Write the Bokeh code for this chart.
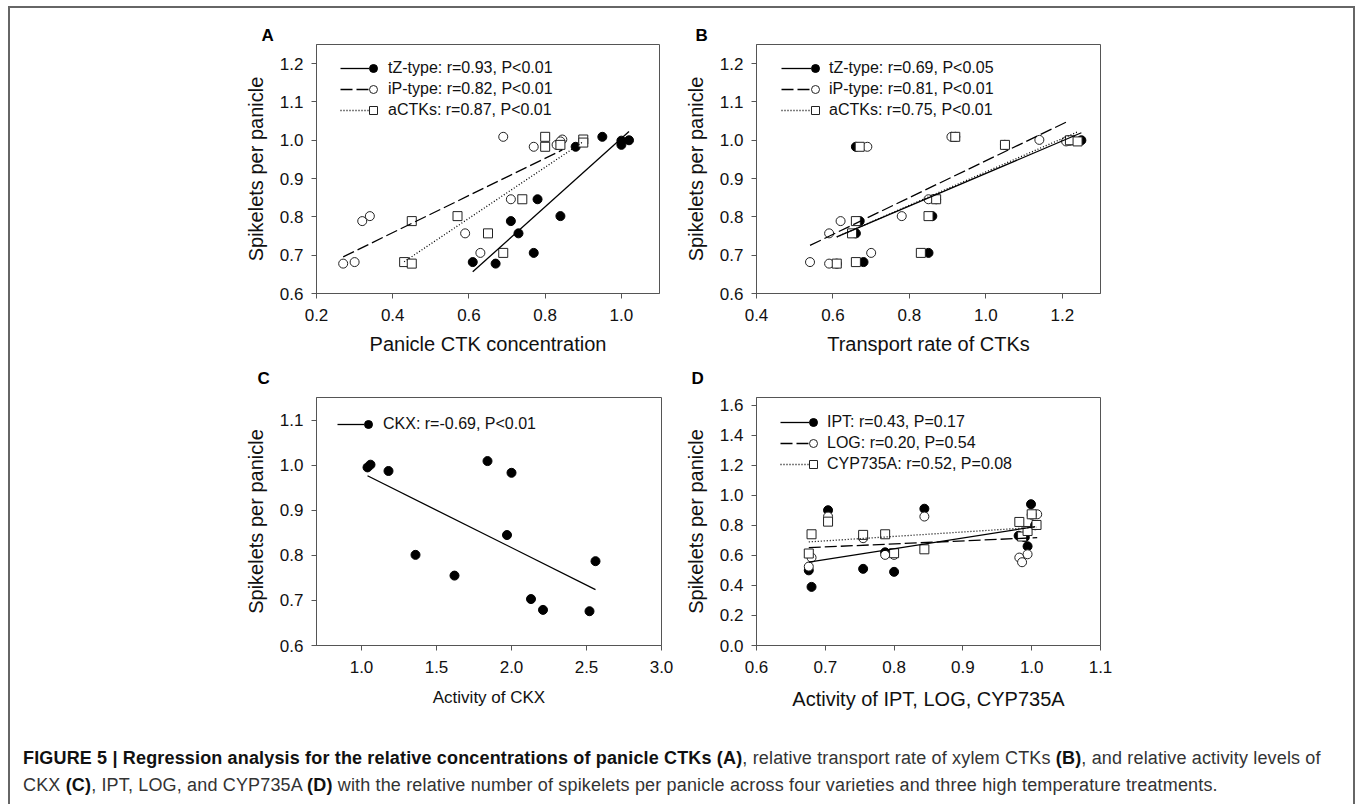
import numpy as np
from bokeh.plotting import figure
from bokeh.models import (Legend, LegendItem, FixedTicker, Spacer,
                          NumeralTickFormatter, Range1d, Div)
from bokeh.layouts import column, row
from bokeh.embed import file_html
from bokeh.resources import INLINE

# ---------------- data ----------------
# Panel A: panicle CTK concentration vs spikelets per panicle
a_tz_x = [0.61, 0.67, 0.71, 0.73, 0.77, 0.78, 0.84, 0.88, 0.95, 1.00, 1.00, 1.02]
a_tz_y = [0.682, 0.678, 0.789, 0.757, 0.706, 0.846, 0.802, 0.983, 1.009, 0.999, 0.988, 1.000]
a_ip_x = [0.27, 0.30, 0.32, 0.34, 0.59, 0.63, 0.69, 0.71, 0.77, 0.83, 0.845, 0.84]
a_ip_y = [0.678, 0.682, 0.789, 0.802, 0.757, 0.706, 1.009, 0.846, 0.983, 0.988, 1.002, 0.997]
a_ac_x = [0.43, 0.45, 0.45, 0.57, 0.65, 0.69, 0.74, 0.80, 0.80, 0.84, 0.90, 0.90]
a_ac_y = [0.682, 0.678, 0.789, 0.802, 0.757, 0.706, 0.846, 1.009, 0.983, 0.988, 1.002, 0.994]

# Panel B: transport rate of CTKs
b_tz_x = [0.68, 0.61, 0.67, 0.66, 0.85, 0.87, 0.86, 0.66, 0.92, 1.22, 1.05, 1.25]
b_tz_y = [0.682, 0.678, 0.789, 0.757, 0.706, 0.846, 0.802, 0.983, 1.009, 0.999, 0.988, 1.000]
b_ip_x = [0.54, 0.59, 0.59, 0.62, 0.70, 0.69, 0.78, 0.85, 0.91, 1.14, 1.05, 1.21]
b_ip_y = [0.682, 0.678, 0.757, 0.789, 0.706, 0.983, 0.802, 0.846, 1.009, 1.001, 0.988, 0.997]
b_ac_x = [0.61, 0.66, 0.65, 0.66, 0.67, 0.83, 0.85, 0.87, 0.92, 1.05, 1.22, 1.24]
b_ac_y = [0.678, 0.682, 0.757, 0.789, 0.983, 0.706, 0.802, 0.846, 1.009, 0.988, 1.000, 0.997]

# Panel C: CKX activity
c_ckx_x = [1.04, 1.06, 1.18, 1.36, 1.62, 1.84, 1.97, 2.00, 2.13, 2.21, 2.52, 2.56]
c_ckx_y = [0.995, 1.001, 0.987, 0.801, 0.755, 1.009, 0.845, 0.983, 0.703, 0.679, 0.676, 0.787]

# Panel D: IPT, LOG, CYP735A activity
d_ipt_x = [0.676, 0.680, 0.704, 0.755, 0.787, 0.800, 0.844, 0.981, 0.994, 0.999, 1.005, 0.990]
d_ipt_y = [0.50, 0.39, 0.90, 0.51, 0.62, 0.49, 0.91, 0.73, 0.66, 0.94, 0.80, 0.72]
d_log_x = [0.676, 0.680, 0.704, 0.755, 0.787, 0.800, 0.844, 0.982, 0.986, 0.994, 1.008, 1.000]
d_log_y = [0.525, 0.585, 0.858, 0.714, 0.603, 0.603, 0.858, 0.585, 0.554, 0.607, 0.873, 0.870]
d_cyp_x = [0.680, 0.676, 0.704, 0.755, 0.787, 0.800, 0.844, 0.982, 0.986, 0.994, 1.000, 1.007]
d_cyp_y = [0.74, 0.612, 0.824, 0.736, 0.74, 0.614, 0.64, 0.822, 0.725, 0.762, 0.873, 0.802]

labels_a = ["tZ-type: r=0.93, P<0.01", "iP-type: r=0.82, P<0.01", "aCTKs: r=0.87, P<0.01"]
labels_b = ["tZ-type: r=0.69, P<0.05", "iP-type: r=0.81, P<0.01", "aCTKs: r=0.75, P<0.01"]
labels_c = ["CKX: r=-0.69, P<0.01"]
labels_d = ["IPT: r=0.43, P=0.17", "LOG: r=0.20, P=0.54", "CYP735A: r=0.52, P=0.08"]

FONT = "Liberation Sans"
AXC = "#555555"

STYLES = {
    "filled": dict(marker="circle", fill_color="black", line_color="black"),
    "open": dict(marker="circle", fill_color="white", line_color="#222222"),
    "square": dict(marker="square", fill_color="white", line_color="#222222"),
}
LINES = {
    "filled": dict(line_dash="solid", line_width=1.3),
    "open": dict(line_dash="12 4", line_width=1.3),
    "square": dict(line_dash="1 2", line_width=1.3),
}


def make_fig(letter, letter_dx, letter_gap, xr, yr, xticks, yticks, xlabel, xlabel_size,
             fw, fh, left, right, top, bottom, xlabel_standoff):
    p = figure(frame_width=fw, frame_height=fh,
               x_range=Range1d(*xr), y_range=Range1d(*yr),
               min_border_left=left, min_border_right=right,
               min_border_top=top, min_border_bottom=bottom,
               output_backend="svg", toolbar_location=None, tools="")
    p.title.text = letter
    p.title.align = "left"
    p.title.offset = letter_dx
    p.title.standoff = letter_gap
    p.title.text_font = FONT
    p.title.text_font_size = "17px"
    p.title.text_font_style = "bold"
    p.title.text_color = "black"
    p.xgrid.visible = False
    p.ygrid.visible = False
    p.outline_line_color = AXC
    p.outline_line_width = 1
    p.background_fill_color = "white"
    p.border_fill_color = "white"
    p.xaxis.ticker = FixedTicker(ticks=xticks)
    p.yaxis.ticker = FixedTicker(ticks=yticks)
    p.xaxis.formatter = NumeralTickFormatter(format="0.0")
    p.yaxis.formatter = NumeralTickFormatter(format="0.0")
    for ax in (p.xaxis[0], p.yaxis[0]):
        ax.axis_line_color = AXC
        ax.major_tick_line_color = AXC
        ax.minor_tick_line_color = None
        ax.major_tick_in = 0
        ax.major_tick_out = 5
        ax.major_label_text_font = FONT
        ax.major_label_text_font_size = "17px"
        ax.major_label_text_color = "#111111"
        ax.axis_label_text_font = FONT
        ax.axis_label_text_font_style = "normal"
        ax.axis_label_text_color = "#111111"
    p.xaxis.major_label_standoff = 10
    p.yaxis.major_label_standoff = 8
    p.xaxis.axis_label = xlabel
    p.xaxis.axis_label_text_font_size = xlabel_size
    p.xaxis.axis_label_standoff = xlabel_standoff
    p.yaxis.axis_label = "Spikelets per panicle"
    p.yaxis.axis_label_text_font_size = "20px"
    p.yaxis.axis_label_standoff = 10
    return p


def add_series(p, xs, ys, kind):
    return p.scatter(xs, ys, size=9, line_width=1, **STYLES[kind])


def add_fit(p, xs, ys, kind):
    xs = np.asarray(xs, dtype=float)
    ys = np.asarray(ys, dtype=float)
    k, b = np.polyfit(xs, ys, 1)
    x0, x1 = float(xs.min()), float(xs.max())
    return p.line([x0, x1], [k * x0 + b, k * x1 + b], line_color="black", **LINES[kind])


def add_legend(p, fh, lines, marks, labels, line_x, line_w, mark_center, text_x, row0):
    gh, sp = 20, 1
    n = len(labels)
    height = n * gh + (n - 1) * sp
    vy = int(round(fh - (row0 - gh / 2) - height))
    common = dict(glyph_height=gh, label_height=gh, spacing=sp, padding=0, margin=0,
                  border_line_alpha=0, background_fill_alpha=0,
                  label_text_font=FONT, label_text_font_size="16px",
                  label_text_color="#111111")
    leg1 = Legend(items=[LegendItem(label=" ", renderers=[l]) for l in lines],
                  location=(int(line_x), vy), glyph_width=int(line_w), label_standoff=0,
                  label_text_alpha=0, **common)
    gw = 22
    gl = int(mark_center - gw // 2)
    leg2 = Legend(items=[LegendItem(label=t, renderers=[m]) for t, m in zip(labels, marks)],
                  location=(gl, vy), glyph_width=gw, label_standoff=int(text_x - (gl + gw)),
                  **common)
    p.add_layout(leg1)
    p.add_layout(leg2)


# ---------------- Panel A ----------------
pA = make_fig("A", -55, 0, (0.2, 1.1), (0.6, 1.25), [0.2, 0.4, 0.6, 0.8, 1.0],
              [0.6, 0.7, 0.8, 0.9, 1.0, 1.1, 1.2], "Panicle CTK concentration", "20px",
              343, 249, 306, 21, 36, 63, 9)
mA = [add_series(pA, a_tz_x, a_tz_y, "filled"),
      add_series(pA, a_ip_x, a_ip_y, "open"),
      add_series(pA, a_ac_x, a_ac_y, "square")]
lA = [add_fit(pA, a_tz_x, a_tz_y, "filled"),
      add_fit(pA, a_ip_x, a_ip_y, "open"),
      add_fit(pA, a_ac_x, a_ac_y, "square")]
add_legend(pA, 249, lA, mA, labels_a, 24, 29, 57, 72, 24)

# ---------------- Panel B ----------------
pB = make_fig("B", -61, 0, (0.4, 1.3), (0.6, 1.25), [0.4, 0.6, 0.8, 1.0, 1.2],
              [0.6, 0.7, 0.8, 0.9, 1.0, 1.1, 1.2], "Transport rate of CTKs", "20px",
              344, 249, 76, 253, 36, 63, 9)
mB = [add_series(pB, b_tz_x, b_tz_y, "filled"),
      add_series(pB, b_ip_x, b_ip_y, "open"),
      add_series(pB, b_ac_x, b_ac_y, "square")]
lB = [add_fit(pB, b_tz_x, b_tz_y, "filled"),
      add_fit(pB, b_ip_x, b_ip_y, "open"),
      add_fit(pB, b_ac_x, b_ac_y, "square")]
add_legend(pB, 249, lB, mB, labels_b, 25, 30, 59, 73, 24)

# ---------------- Panel C ----------------
pC = make_fig("C", -59, 19, (0.7, 3.0), (0.6, 1.15), [1.0, 1.5, 2.0, 2.5, 3.0],
              [0.6, 0.7, 0.8, 0.9, 1.0, 1.1], "Activity of CKX", "17px",
              345, 248, 306, 19, 40, 72, 12)
mC = [add_series(pC, c_ckx_x, c_ckx_y, "filled")]
lC = [add_fit(pC, c_ckx_x, c_ckx_y, "filled")]
add_legend(pC, 248, lC, mC, labels_c, 21, 27, 52, 67, 27)

# ---------------- Panel D ----------------
pD = make_fig("D", -65, 19, (0.6, 1.1), (0.0, 1.65), [0.6, 0.7, 0.8, 0.9, 1.0, 1.1],
              [0.0, 0.2, 0.4, 0.6, 0.8, 1.0, 1.2, 1.4, 1.6], "Activity of IPT, LOG, CYP735A", "20px",
              344, 248, 76, 253, 40, 72, 12)
mD = [add_series(pD, d_ipt_x, d_ipt_y, "filled"),
      add_series(pD, d_log_x, d_log_y, "open"),
      add_series(pD, d_cyp_x, d_cyp_y, "square")]
lD = [add_fit(pD, d_ipt_x, d_ipt_y, "filled"),
      add_fit(pD, d_log_x, d_log_y, "open"),
      add_fit(pD, d_cyp_x, d_cyp_y, "square")]
add_legend(pD, 248, lD, mD, labels_d, 24, 29, 57, 71, 25)

# ---------------- caption ----------------
caption_html = (
    "<div style=\"font-family:'Liberation Sans',Arial,sans-serif;"
    "font-size:18px;letter-spacing:0.16px;line-height:27px;color:#333;"
    "padding:28px 0 0 13px;white-space:nowrap;\">"
    "<b style='color:#111'>FIGURE 5 | Regression analysis for the relative concentrations of panicle CTKs (A)</b>, "
    "relative transport rate of xylem CTKs <b style='color:#111'>(B)</b>, and relative activity levels of<br>"
    "CKX <b style='color:#111'>(C)</b>, IPT, LOG, and CYP735A <b style='color:#111'>(D)</b> with the relative number "
    "of spikelets per panicle across four varieties and three high temperature treatments.</div>"
)
cap = Div(text=caption_html, width=1343, height=88, margin=0,
          styles={"background-color": "white"})

GRAY = {"background-color": "#666666"}
inner = column(row(pA, pB), row(pC, pD), cap)
framebox = column(Div(text="", width=1347, height=2, margin=0, styles=GRAY),
                  row(Div(text="", width=2, height=796, margin=0, styles=GRAY),
                      inner,
                      Div(text="", width=2, height=796, margin=0, styles=GRAY)))
layout = column(Spacer(height=6, width=1355), row(Spacer(width=8, height=798), framebox))

open("out.html", "w").write(file_html(layout, INLINE))
